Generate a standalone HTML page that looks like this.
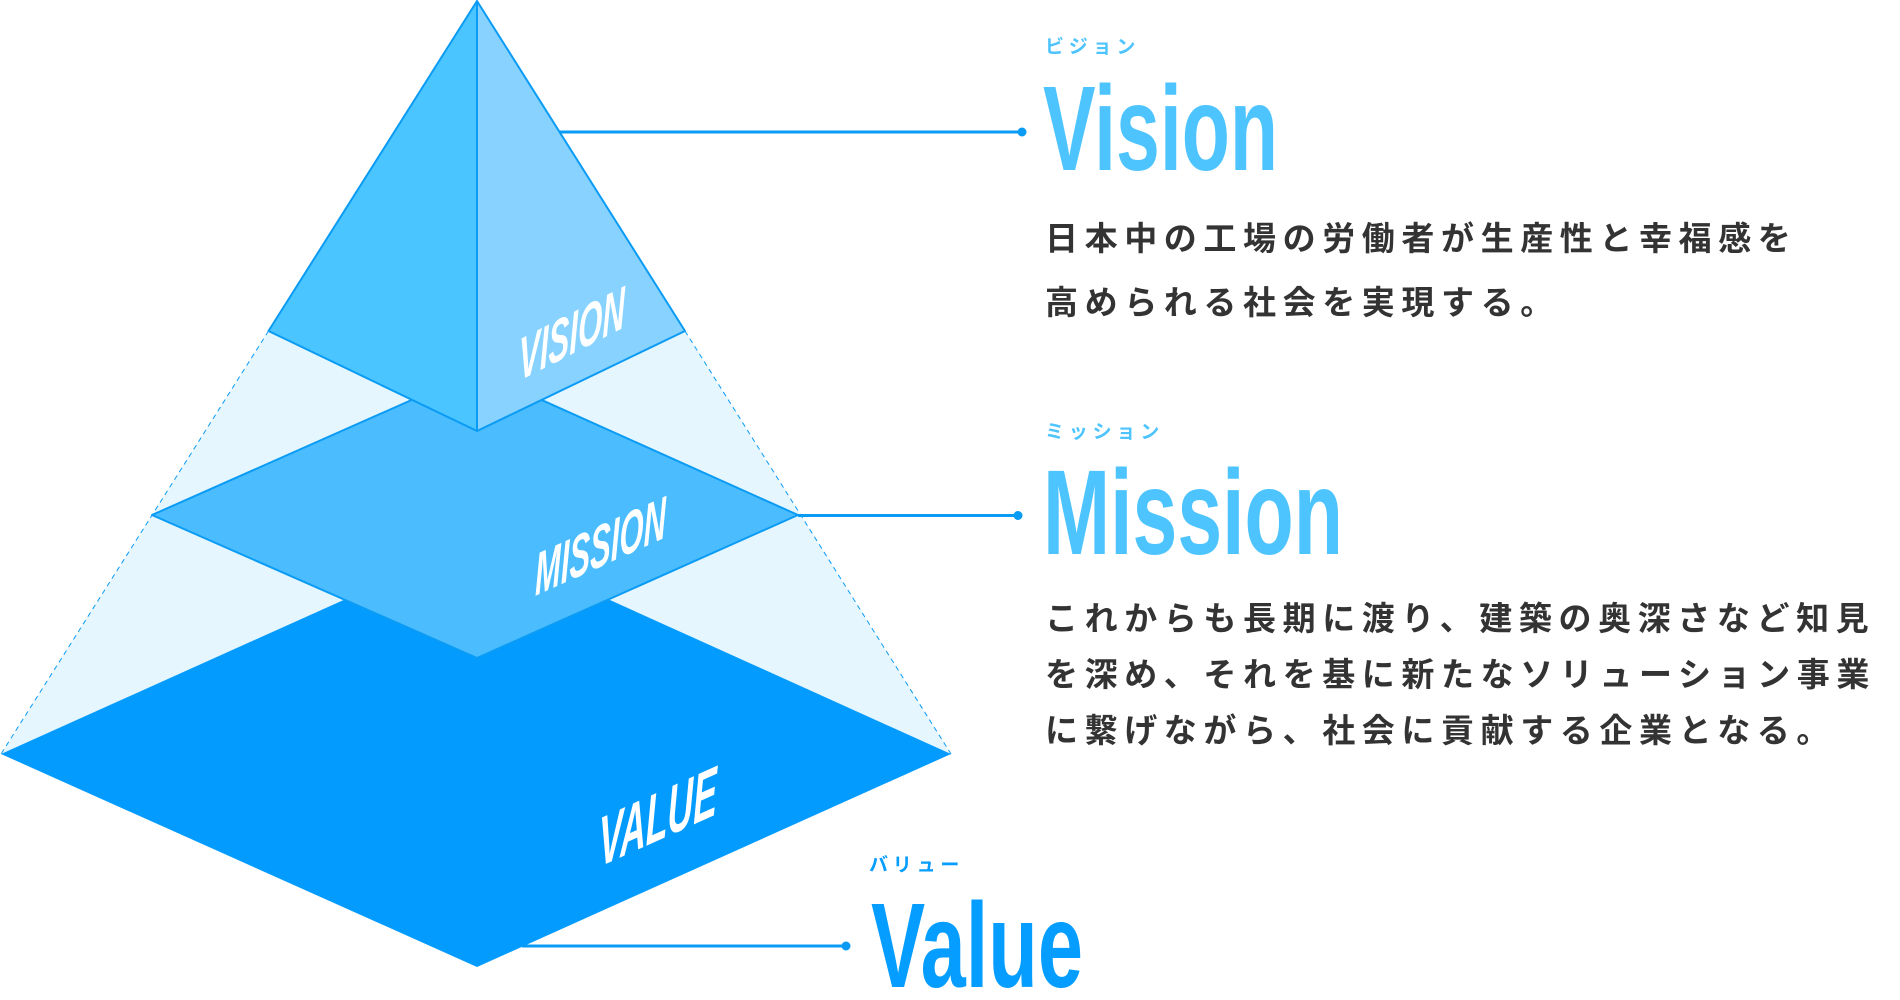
<!DOCTYPE html>
<html lang="ja">
<head>
<meta charset="utf-8">
<style>
  html, body { margin: 0; padding: 0; background: #ffffff; }
  body { width: 1900px; height: 1000px; overflow: hidden; position: relative; }
  svg { position: absolute; left: 0; top: 0; display: block; }
  .lat { font-family: "Liberation Sans", sans-serif; font-weight: bold; }
  .jp  { font-family: "Liberation Sans", "Noto Sans CJK JP", sans-serif; font-weight: bold; }
  .body { fill: #333333; font-size: 33px; letter-spacing: 6.6px; }
  .kana { font-size: 19px; letter-spacing: 4.8px; }
</style>
</head>
<body>
<svg width="1900" height="1000" viewBox="0 0 1900 1000" xmlns="http://www.w3.org/2000/svg">
  <!-- ghost pyramid -->
  <polygon points="477,1 1,754 951,754" fill="#e6f6fe"/>
  <line x1="268.5" y1="331" x2="1" y2="754" stroke="#0a9bf5" stroke-width="1" stroke-dasharray="5 4"/>
  <line x1="685" y1="331" x2="951" y2="754" stroke="#0a9bf5" stroke-width="1" stroke-dasharray="5 4"/>

  <!-- value layer -->
  <polygon points="1,754 477,540 951,754 477,967" fill="#049bff"/>
  <line x1="522" y1="946" x2="846" y2="946" stroke="#0a9bf5" stroke-width="3"/>
  <circle cx="846" cy="946" r="4.5" fill="#0a9bf5"/>

  <!-- mission layer -->
  <polygon points="152,515 477,371 798,515 477,658" fill="#4bbdff" stroke="#0a9bf5" stroke-width="2" stroke-linejoin="round"/>
  <line x1="798" y1="515.5" x2="1018" y2="515.5" stroke="#0a9bf5" stroke-width="3"/>
  <circle cx="1018" cy="515.5" r="4.5" fill="#0a9bf5"/>

  <!-- vision layer -->
  <polygon points="477,1 268.5,331 477,431" fill="#4bc5ff"/>
  <polygon points="477,1 477,431 685,331" fill="#87d2ff"/>
  <path d="M477,1 L268.5,331 L477,431 L685,331 Z M477,1 L477,431" fill="none" stroke="#0a9bf5" stroke-width="2" stroke-linejoin="round"/>
  <line x1="559" y1="132" x2="1022" y2="132" stroke="#0a9bf5" stroke-width="3"/>
  <circle cx="1022" cy="132" r="4.5" fill="#0a9bf5"/>

  <!-- in-pyramid labels -->
  <text class="lat" transform="translate(519,381) skewY(-27)" x="0" y="0" font-size="60" font-style="italic" fill="#ffffff" textLength="106" lengthAdjust="spacingAndGlyphs">VISION</text>
  <text class="lat" transform="translate(535,596) skewY(-24.2)" x="0" y="0" font-size="60" font-style="italic" fill="#ffffff" textLength="131" lengthAdjust="spacingAndGlyphs">MISSION</text>
  <text class="lat" transform="translate(599,867) skewY(-24.2)" x="0" y="0" font-size="70" font-style="italic" fill="#ffffff" textLength="118" lengthAdjust="spacingAndGlyphs">VALUE</text>

  <!-- Vision -->
  <text class="jp kana" x="1045" y="53" fill="#4ec4ff">ビジョン</text>
  <text class="lat" x="1043" y="170" font-size="121" fill="#4ec4ff" textLength="235" lengthAdjust="spacingAndGlyphs">Vision</text>
  <text class="jp body" x="1045" y="250">日本中の工場の労働者が生産性と幸福感を</text>
  <text class="jp body" x="1045" y="314">高められる社会を実現する。</text>

  <!-- Mission -->
  <text class="jp kana" x="1045" y="438" fill="#4ec4ff">ミッション</text>
  <text class="lat" x="1043" y="554" font-size="121" fill="#4ec4ff" textLength="300" lengthAdjust="spacingAndGlyphs">Mission</text>
  <text class="jp body" x="1045" y="630">これからも長期に渡り、建築の奥深さなど知見</text>
  <text class="jp body" x="1045" y="686">を深め、それを基に新たなソリューション事業</text>
  <text class="jp body" x="1045" y="742">に繋げながら、社会に貢献する企業となる。</text>

  <!-- Value -->
  <text class="jp kana" x="869" y="871" fill="#059dff">バリュー</text>
  <text class="lat" x="871" y="987" font-size="121" fill="#059dff" textLength="212" lengthAdjust="spacingAndGlyphs">Value</text>
</svg>
</body>
</html>
